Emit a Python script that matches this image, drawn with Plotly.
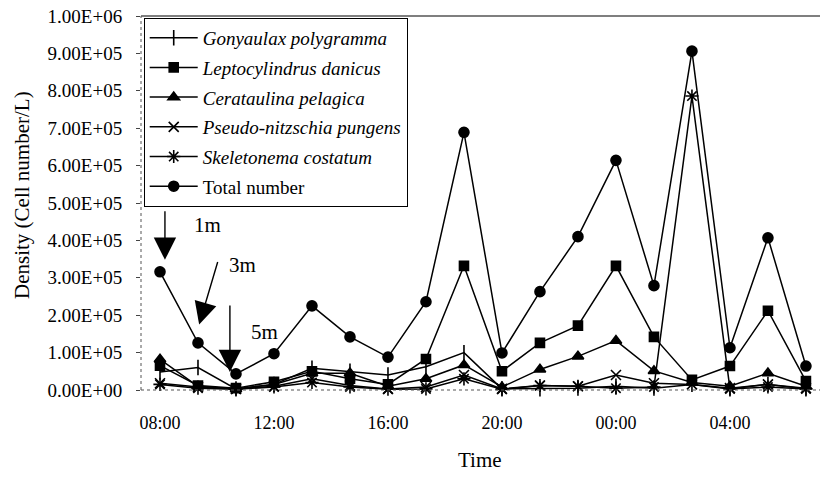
import plotly.graph_objects as go

times = ["08:00", "09:20", "10:40", "12:00", "13:20", "14:40", "16:00", "17:20", "18:40",
         "20:00", "21:20", "22:40", "00:00", "01:20", "02:40", "04:00", "05:20", "06:40"]
tick_times = ["08:00", "12:00", "16:00", "20:00", "00:00", "04:00"]

gonyaulax = [48e3, 60e3, 3e3, 15e3, 58e3, 50e3, 40e3, 62e3, 100e3, 3e3, 3e3, 5e3, 10e3, 5e3, 15e3, 3e3, 15e3, 3e3]
leptocylindrus = [65e3, 12e3, 5e3, 22e3, 50e3, 30e3, 15e3, 83e3, 332e3, 50e3, 126e3, 172e3, 332e3, 142e3, 27e3, 64e3, 212e3, 24e3]
cerataulina = [82e3, 10e3, 3e3, 15e3, 45e3, 45e3, 10e3, 30e3, 67e3, 8e3, 55e3, 90e3, 132e3, 51e3, 20e3, 10e3, 45e3, 10e3]
pseudo_nitzschia = [18e3, 8e3, 3e3, 10e3, 30e3, 12e3, 3e3, 8e3, 40e3, 3e3, 12e3, 10e3, 40e3, 18e3, 15e3, 5e3, 15e3, 5e3]
skeletonema = [15e3, 5e3, 2e3, 8e3, 20e3, 8e3, 2e3, 3e3, 30e3, 2e3, 12e3, 10e3, 5e3, 8e3, 786e3, 3e3, 8e3, 3e3]
total = [316e3, 126e3, 43e3, 97e3, 225e3, 142e3, 88e3, 236e3, 689e3, 99e3, 263e3, 410e3, 614e3, 279e3, 906e3, 113e3, 407e3, 64e3]

y_ticks = [i * 1e5 for i in range(11)]
y_ticktext = ["0.00E+00", "1.00E+05", "2.00E+05", "3.00E+05", "4.00E+05", "5.00E+05",
              "6.00E+05", "7.00E+05", "8.00E+05", "9.00E+05", "1.00E+06"]

series = [
    ("<i>Gonyaulax polygramma</i>", gonyaulax, "line-ns", 11),
    ("<i>Leptocylindrus danicus</i>", leptocylindrus, "square", 9),
    ("<i>Cerataulina pelagica</i>", cerataulina, "triangle-up", 10),
    ("<i>Pseudo-nitzschia pungens</i>", pseudo_nitzschia, "x-thin", 10),
    ("<i>Skeletonema costatum</i>", skeletonema, "asterisk", 11),
    ("Total number", total, "circle", 10),
]

FONT = "Liberation Serif, Times New Roman, serif"

fig = go.Figure()
for i, (name, vals, sym, sz) in enumerate(series):
    fig.add_trace(go.Scatter(
        x=times, y=vals, name=name, mode="lines+markers",
        line=dict(color="black", width=1.5),
        marker=dict(symbol=sym, size=sz, color="black",
                    line=dict(color="black", width=1.6)),
        cliponaxis=False, legendgroup=str(i),
    ))

L, R, T, B = 141, 0, 16, 90
fig.update_layout(
    width=820, height=480,
    margin=dict(l=L, r=R, t=T, b=B),
    paper_bgcolor="white", plot_bgcolor="white",
    font=dict(family=FONT, size=18, color="black"),
    showlegend=True,
    legend=dict(x=0.004, y=0.995, xanchor="left", yanchor="top",
                bordercolor="black", borderwidth=1, bgcolor="white",
                font=dict(family=FONT, size=19, color="black"),
                traceorder="grouped", tracegroupgap=2, itemwidth=48),
    xaxis=dict(type="category", range=[-0.5, 17.37], tickvals=tick_times, ticktext=tick_times,
               showgrid=False, zeroline=False, showline=False, ticks="",
               ticklabelstandoff=20, tickfont=dict(size=18)),
    yaxis=dict(range=[0, 1e6], tickvals=y_ticks, ticktext=y_ticktext,
               showgrid=False, zeroline=False, showline=False,
               ticks="outside", ticklen=4, tickcolor="#444",
               ticklabelstandoff=10, tickfont=dict(size=19)),
)

# frame lines
fig.add_shape(type="line", xref="paper", yref="paper", x0=0, x1=1, y0=1, y1=1,
              line=dict(color="black", width=1.2))
fig.add_shape(type="line", xref="paper", yref="paper", x0=0, x1=0, y0=0, y1=1,
              line=dict(color="#555", width=1, dash="dot"))
fig.add_shape(type="line", xref="paper", yref="paper", x0=0, x1=1, y0=0, y1=0,
              line=dict(color="#555", width=1.2, dash="dot"))

# axis titles
fig.add_annotation(text="Density (Cell number/L)", xref="paper", yref="paper",
                   x=(22 - L) / 679, y=(390 - 195) / 374, textangle=-90,
                   showarrow=False, font=dict(family=FONT, size=21, color="black"),
                   xanchor="center", yanchor="middle")
fig.add_annotation(text="Time", xref="paper", yref="paper",
                   x=(480 - L) / 679, y=-(460 - 390) / 374,
                   showarrow=False, font=dict(family=FONT, size=21, color="black"),
                   xanchor="center", yanchor="middle")

# depth arrows
arrow_kw = dict(showarrow=True, arrowhead=2, arrowsize=3.2, arrowwidth=1.4,
                arrowcolor="black", text="", axref="pixel", ayref="pixel")
fig.add_annotation(x=0.13, y=3.48e5, ax=0, ay=-50, **arrow_kw)
fig.add_annotation(x=1.03, y=1.75e5, ax=19, ay=-64, **arrow_kw)
fig.add_annotation(x=1.84, y=0.48e5, ax=0, ay=-68, **arrow_kw)
fig.add_annotation(text="1m", x=1.25, y=4.4e5, showarrow=False,
                   font=dict(family=FONT, size=21, color="black"))
fig.add_annotation(text="3m", x=2.16, y=3.35e5, showarrow=False,
                   font=dict(family=FONT, size=21, color="black"))
fig.add_annotation(text="5m", x=2.76, y=1.55e5, showarrow=False,
                   font=dict(family=FONT, size=21, color="black"))

fig.write_html("out.html")
